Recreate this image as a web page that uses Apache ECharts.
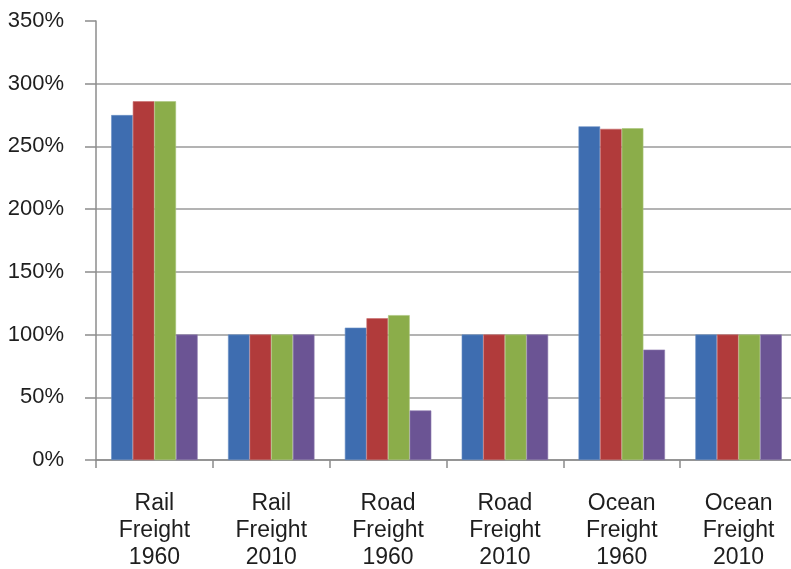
<!DOCTYPE html>
<html>
<head>
<meta charset="utf-8">
<script src="https://cdn.jsdelivr.net/npm/echarts@6/dist/echarts.min.js"></script>
<style>
  html, body { margin: 0; padding: 0; background: #fff; }
  #main { width: 791px; height: 569px; }
</style>
</head>
<body>
<div id="main"></div>
<script>
// categories along the x axis
const categories = [
  "Rail\nFreight\n1960", "Rail\nFreight\n2010",
  "Road\nFreight\n1960", "Road\nFreight\n2010",
  "Ocean\nFreight\n1960", "Ocean\nFreight\n2010"
];

// four series, values in percent
const blueValues = [275, 100, 105.5, 100, 266, 100];
const redValues = [286, 100, 113, 100, 264, 100];
const greenValues = [286, 100, 115.5, 100, 264.5, 100];
const purpleValues = [100, 100, 39.5, 100, 88, 100];

const colors = ["#3e6db0", "#b13b3b", "#8bad4a", "#6b5494"];
const borders = ["#6a90c6", "#c86a6a", "#a9c57a", "#8f7cb0"];

const chartDom = document.getElementById("main");
const myChart = echarts.init(chartDom, null, { renderer: "canvas" });

const font = "'Liberation Sans', Arial, sans-serif";

function makeSeries(values, i) {
  return {
    type: "bar",
    data: values,
    barGap: "0%",
    barCategoryGap: "26%",
    itemStyle: { color: colors[i], borderColor: borders[i], borderWidth: 0.6 },
    animation: false
  };
}

const option = {
  backgroundColor: "#fff",
  // plot runs a little past the right edge, as in the original crop
  grid: { left: 96, width: 701, top: 21, bottom: 109, containLabel: false, outerBoundsMode: "none" },
  xAxis: {
    type: "category",
    data: categories,
    axisLine: { lineStyle: { color: "#8c8c8c", width: 1.5 } },
    axisTick: { show: true, length: 8, lineStyle: { color: "#8c8c8c", width: 1.5 } },
    axisLabel: {
      margin: 30,
      fontFamily: font,
      fontSize: 23,
      lineHeight: 27,
      color: "#1e1e1e",
      interval: 0
    }
  },
  yAxis: {
    type: "value",
    min: 0,
    max: 350,
    interval: 50,
    axisLine: { show: true, lineStyle: { color: "#8c8c8c", width: 1.5 } },
    axisTick: { show: true, length: 11, lineStyle: { color: "#8c8c8c", width: 1.5 } },
    splitLine: { show: true, showMaxLine: false, lineStyle: { color: "#9a9a9a", width: 1.5 } },
    axisLabel: {
      margin: 32,
      fontFamily: font,
      fontSize: 22,
      color: "#1e1e1e",
      formatter: "{value}%"
    }
  },
  series: [blueValues, redValues, greenValues, purpleValues].map(makeSeries)
};

myChart.setOption(option);
</script>
</body>
</html>
